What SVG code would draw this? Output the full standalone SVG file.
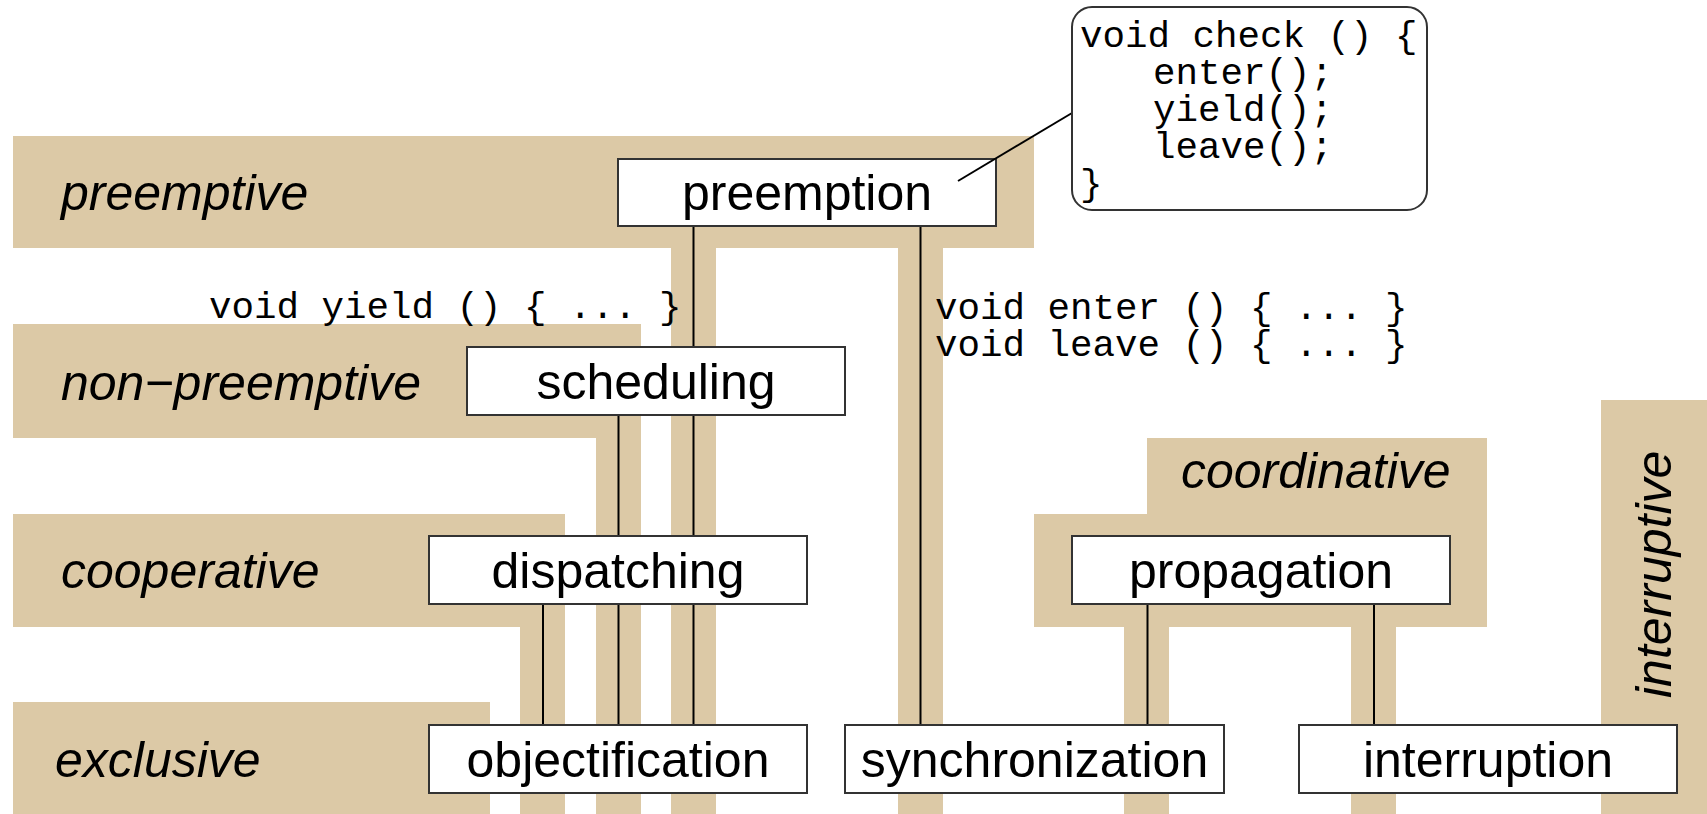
<svg xmlns="http://www.w3.org/2000/svg" width="1707" height="814" viewBox="0 0 1707 814">
<style>
.band{fill:#DCC9A6;stroke:none}
.box{fill:#fff;stroke:#333;stroke-width:2}
.lbl{font-family:"Liberation Sans",Arial,sans-serif;font-size:50px;font-style:italic;fill:#000}
.nt{font-family:"Liberation Sans",Arial,sans-serif;font-size:50px;fill:#000;text-anchor:middle}
.code{font-family:"Liberation Mono","Courier New",monospace;font-size:37.5px;fill:#000}
.con{stroke:#000;stroke-width:2;fill:none}
</style>
<g id="bands">
<path class="band" d="M13,136H1034V248H943V814H898V248H716V814H671V248H13Z"/>
<path class="band" d="M13,324H641V814H596V438H13Z"/>
<path class="band" d="M13,514H565V814H520V627H13Z"/>
<rect class="band" x="13" y="702" width="477" height="112"/>
<path class="band" d="M1147,438H1487V627H1396V814H1351V627H1169V814H1124V627H1034V514H1147Z"/>
<rect class="band" x="1601" y="400" width="106" height="414"/>
</g>
<g id="band-labels">
<text class="lbl" x="61" y="210">preemptive</text>
<text class="lbl" x="61" y="400">non−preemptive</text>
<text class="lbl" x="61" y="588">cooperative</text>
<text class="lbl" x="55" y="777">exclusive</text>
<text class="lbl" x="1181" y="488">coordinative</text>
<text class="lbl" transform="translate(1671,698) rotate(-90)">interruptive</text>
</g>
<g id="connectors">
<line class="con" x1="543" y1="604" x2="543" y2="725"/>
<line class="con" x1="618.5" y1="415" x2="618.5" y2="725"/>
<line class="con" x1="693.5" y1="226" x2="693.5" y2="725"/>
<line class="con" x1="920.5" y1="226" x2="920.5" y2="725"/>
<line class="con" x1="1147.5" y1="604" x2="1147.5" y2="725"/>
<line class="con" x1="1374" y1="604" x2="1374" y2="725"/>
</g>
<g id="code-labels">
<text class="code" x="209" y="318">void yield () { ... }</text>
<text class="code" x="935" y="319">void enter () { ... }</text>
<text class="code" x="935" y="356">void leave () { ... }</text>
</g>
<g id="preemption">
<rect class="box" x="618" y="159" width="378" height="67"/>
<text class="nt" x="807" y="210">preemption</text>
</g>
<g id="scheduling">
<rect class="box" x="467" y="347" width="378" height="68"/>
<text class="nt" x="656" y="399">scheduling</text>
</g>
<g id="dispatching">
<rect class="box" x="429" y="536" width="378" height="68"/>
<text class="nt" x="618" y="588">dispatching</text>
</g>
<g id="objectification">
<rect class="box" x="429" y="725" width="378" height="68"/>
<text class="nt" x="618" y="777">objectification</text>
</g>
<g id="synchronization">
<rect class="box" x="845" y="725" width="379" height="68"/>
<text class="nt" x="1034.5" y="777">synchronization</text>
</g>
<g id="propagation">
<rect class="box" x="1072" y="536" width="378" height="68"/>
<text class="nt" x="1261" y="588">propagation</text>
</g>
<g id="interruption">
<rect class="box" x="1299" y="725" width="378" height="68"/>
<text class="nt" x="1488" y="777">interruption</text>
</g>
<g id="callout">
<line class="con" x1="958" y1="181" x2="1072" y2="113" stroke-width="1.5"/>
</g>
<g id="check">
<rect class="box" x="1072" y="7" width="355" height="203" rx="20" ry="20" stroke-width="1.5"/>
<text class="code" x="1080" y="47">void check () {</text>
<text class="code" x="1153" y="84">enter();</text>
<text class="code" x="1153" y="121">yield();</text>
<text class="code" x="1153" y="158">leave();</text>
<text class="code" x="1080" y="195">}</text>
</g>
</svg>
